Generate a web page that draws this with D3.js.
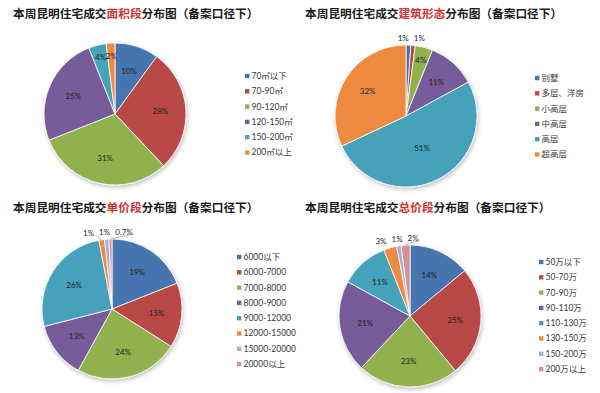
<!DOCTYPE html>
<html>
<head>
<meta charset="utf-8">
<script src="https://cdn.jsdelivr.net/npm/d3@7"></script>
<style>
  body { margin: 0; background: #fff; }
  svg { display: block; }
</style>
</head>
<body>
<svg id="chart"></svg>
<script>
// Canvas settings
const WIDTH = 600;
const HEIGHT = 393;

// Office-like palette used by the four pies (a touch darker, as in the scan)
const COLORS = ['#4775B0', '#B84A47', '#91B150', '#765C98', '#44A2BA', '#EE8B40', '#9DB3DA', '#D9918F'];
const HIGHLIGHT = '#cc3333';

// 面积段
const areaCats = ['70㎡以下', '70-90㎡', '90-120㎡', '120-150㎡', '150-200㎡', '200㎡以上'];
const areaVals = [10, 28, 31, 25, 4, 2];

// 建筑形态
const formCats = ['别墅', '多层、洋房', '小高层', '中高层', '高层', '超高层'];
const formVals = [1.1, 1, 4, 11, 51, 32];

// 单价段
const unitCats = ['6000以下', '6000-7000', '7000-8000', '8000-9000', '9000-12000', '12000-15000', '15000-20000', '20000以上'];
const unitVals = [19, 15, 24, 13, 26, 1.3, 1, 0.7];

// 总价段
const totalCats = ['50万以下', '50-70万', '70-90万', '90-110万', '110-130万', '130-150万', '150-200万', '200万以上'];
const totalVals = [14, 25, 23, 21, 11, 3, 1, 2];

// Layout of each panel (title pieces, pie centre, legend spot)
const panels = [
  {title: ['本周昆明住宅成交', '面积段', '分布图（备案口径下）'], cats: areaCats, vals: areaVals,
   tx: 13, ty: 18, cx: 115, cy: 114, r: 71, lx: 245, ly: 76, outsideBelow: 1},
  {title: ['本周昆明住宅成交', '建筑形态', '分布图（备案口径下）'], cats: formCats, vals: formVals,
   tx: 305, ty: 18, cx: 406, cy: 116, r: 71, lx: 535, ly: 78, outsideBelow: 2},
  {title: ['本周昆明住宅成交', '单价段', '分布图（备案口径下）'], cats: unitCats, vals: unitVals,
   tx: 13, ty: 212, cx: 112, cy: 309, r: 70, lx: 237, ly: 257, outsideBelow: 2},
  {title: ['本周昆明住宅成交', '总价段', '分布图（备案口径下）'], cats: totalCats, vals: totalVals,
   tx: 305, ty: 212, cx: 410, cy: 316, r: 71, lx: 539, ly: 262, outsideBelow: 4}
];

const LEGEND_STEP = 15.3;

const svg = d3.select('svg#chart').attr('width', WIDTH).attr('height', HEIGHT);

// soft shadow under the pies
const defs = svg.append('defs');
defs.append('filter').attr('id', 'shadow')
    .attr('x', '-20%').attr('y', '-20%').attr('width', '140%').attr('height', '140%')
  .append('feDropShadow')
    .attr('dx', 1).attr('dy', 2).attr('stdDeviation', 2)
    .attr('flood-color', '#000').attr('flood-opacity', 0.25);

function fmt(v) {
  return v < 1 ? v + '%' : Math.round(v) + '%';
}

panels.forEach(p => drawPanel(p));

function drawPanel(p) {
  const g = svg.append('g');

  // Title, with the middle part in red
  const title = g.append('text')
      .attr('x', p.tx).attr('y', p.ty)
      .style('font-family', '"Noto Sans CJK SC", sans-serif')
      .style('font-weight', 'bold')
      .style('font-size', '11.7px')
      .style('fill', '#1a1a1a');
  title.append('tspan').text(p.title[0]);
  title.append('tspan').text(p.title[1]).style('fill', HIGHLIGHT);
  title.append('tspan').text(p.title[2]);

  const pie = d3.pie().sort(null).value(d => d)(p.vals);
  const arc = d3.arc().innerRadius(0).outerRadius(p.r);

  const pg = g.append('g').attr('transform', `translate(${p.cx},${p.cy})`);

  pg.append('g').attr('filter', 'url(#shadow)')
    .selectAll('path').data(pie).enter().append('path')
      .attr('d', arc)
      .style('fill', (d, i) => COLORS[i])
      .style('stroke', '#fff')
      .style('stroke-width', 0.8);

  // Labels: big slices inside, tiny ones just outside the rim
  const inside = pie.filter(d => d.data >= p.outsideBelow);
  const outside = pie.filter(d => d.data < p.outsideBelow);

  pg.selectAll('text.in').data(inside).enter().append('text')
      .attr('class', 'in')
      .attr('transform', d => {
        const k = d.data >= 40 ? 0.5 : (d.data < 5 ? 0.82 : 0.64);
        const c = d3.arc().innerRadius(p.r * k).outerRadius(p.r * k).centroid(d);
        return `translate(${c[0]},${c[1]})`;
      })
      .attr('text-anchor', 'middle')
      .attr('dy', '0.35em')
      .style('font-family', 'Lato, sans-serif')
      .style('font-size', '8px')
      .style('fill', '#1f1f1f')
      .text(d => fmt(d.data));

  const outArc = d3.arc().innerRadius(p.r + 7).outerRadius(p.r + 7);
  const outLabels = outside.map(d => {
    const c = outArc.centroid(d);
    return {d: d, x0: c[0], x: c[0], y: c[1]};
  });

  const outText = pg.selectAll('text.out').data(outLabels).enter().append('text')
      .attr('class', 'out')
      .attr('text-anchor', 'middle')
      .attr('dy', '0.35em')
      .style('font-family', 'Lato, sans-serif')
      .style('font-size', '8px')
      .style('fill', '#1f1f1f')
      .text(o => fmt(o.d.data));

  outText.each(function(o) { o.w = this.getComputedTextLength(); });

  // push overlapping outside labels apart
  outLabels.sort((a, b) => a.x - b.x);
  for (let it = 0; it < 40; it++) {
    for (let i = 0; i < outLabels.length - 1; i++) {
      const a = outLabels[i], b = outLabels[i + 1];
      const need = (a.w + b.w) / 2 + 5;
      const diff = b.x - a.x;
      if (diff < need) {
        const s = (need - diff) / 2;
        a.x -= s;
        b.x += s;
      }
    }
  }
  outText.attr('x', o => o.x).attr('y', o => o.y);

  // leader line when a label got moved far from its slice
  outLabels.filter(o => Math.abs(o.x - o.x0) > 8).forEach(o => {
    const edge = d3.arc().innerRadius(p.r).outerRadius(p.r).centroid(o.d);
    pg.append('path')
      .attr('d', `M${o.x + o.w / 2 + 1},${o.y + 2}L${edge[0]},${edge[1]}`)
      .style('fill', 'none')
      .style('stroke', '#888')
      .style('stroke-width', 0.6);
  });

  // Legend
  const lg = g.append('g').attr('transform', `translate(${p.lx},${p.ly})`);
  const item = lg.selectAll('g').data(p.cats).enter().append('g')
      .attr('transform', (d, i) => `translate(0,${i * LEGEND_STEP})`);
  item.append('rect')
      .attr('x', 0).attr('y', -2.2)
      .attr('width', 4.4).attr('height', 4.4)
      .style('fill', (d, i) => COLORS[i]);
  item.append('text')
      .attr('x', 6.5).attr('dy', '0.35em')
      .style('font-family', 'Lato, "Noto Sans CJK SC", sans-serif')
      .style('font-size', '8.5px')
      .style('fill', '#3a3a3a')
      .text(d => d);
}
</script>
</body>
</html>
